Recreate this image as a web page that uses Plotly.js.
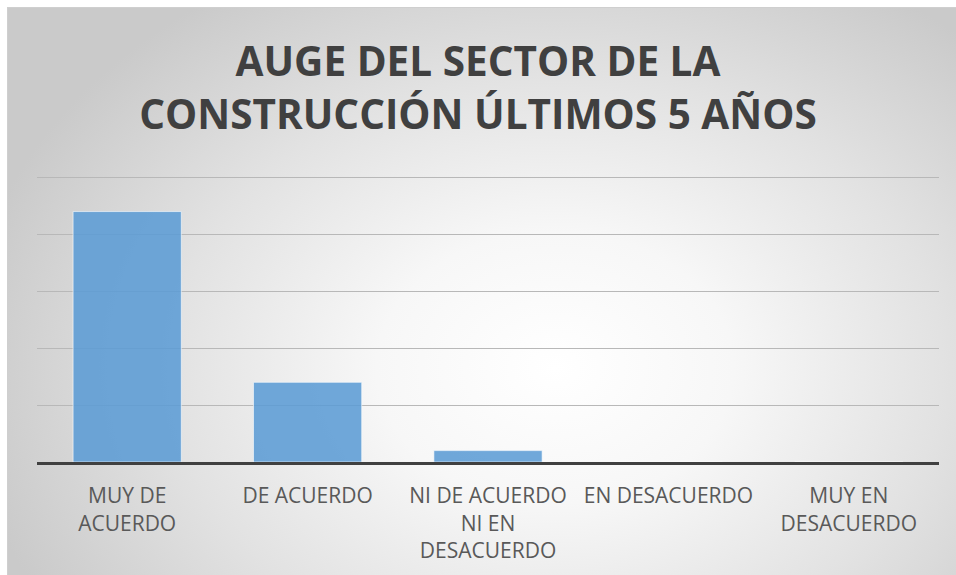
<!DOCTYPE html>
<html>
<head>
<meta charset="utf-8">
<script src="https://cdn.plot.ly/plotly-3.0.1.min.js"></script>
<style>
  html, body { margin: 0; padding: 0; background: #ffffff; width: 956px; height: 575px; overflow: hidden; }
  #bg { position: absolute; left: 7px; top: 7px; width: 960px; height: 580px;
        border-left: 1px solid #cfcfcf; border-top: 1px solid #cfcfcf;
        background: radial-gradient(ellipse 62% 78% at 57% 62%, #ffffff 0%, #f7f7f7 30%, #e2e2e2 65%, #cacaca 100%); }
  #chart { position: absolute; left: 0; top: 0; width: 956px; height: 575px; }
</style>
</head>
<body>
<div id="bg"></div>
<div id="chart"></div>
<script>
const categories = ["MUY DE<br>ACUERDO", "DE ACUERDO", "NI DE ACUERDO<br>NI EN<br>DESACUERDO", "EN DESACUERDO", "MUY EN<br>DESACUERDO"];
const values = [22, 7, 1, 0, 0];
const yTicks = [0, 5, 10, 15, 20, 25];

const trace = {
  type: "bar",
  x: categories,
  y: values,
  marker: { color: "rgba(91,155,213,0.87)", line: { color: "rgba(255,255,255,0.6)", width: 1 } },
  hoverinfo: "x+y"
};

const layout = {
  width: 956, height: 575,
  margin: { l: 37, r: 17, t: 173.6, b: 113 },
  paper_bgcolor: "rgba(0,0,0,0)",
  plot_bgcolor: "rgba(0,0,0,0)",
  bargap: 0.4,
  showlegend: false,
  title: {
    text: "AUGE DEL SECTOR DE LA<br>CONSTRUCCIÓN ÚLTIMOS 5 AÑOS",
    font: { family: "Open Sans, sans-serif", size: 40.5, color: "#404040", weight: "bold" },
    x: 0.5, xanchor: "center", y: 0.868, yanchor: "middle"
  },
  xaxis: {
    type: "category",
    showline: true, linecolor: "#404040", linewidth: 3,
    showgrid: false, ticks: "",
    tickfont: { family: "Open Sans, sans-serif", size: 21, color: "#595959" },
    ticklabelstandoff: 13
  },
  yaxis: {
    range: [0, 25.3],
    tickvals: yTicks,
    showticklabels: false,
    showgrid: true, gridcolor: "#b8b8b8", gridwidth: 1,
    zeroline: false, showline: false, ticks: ""
  }
};

Plotly.newPlot("chart", [trace], layout, { displayModeBar: false, staticPlot: true });
</script>
</body>
</html>
